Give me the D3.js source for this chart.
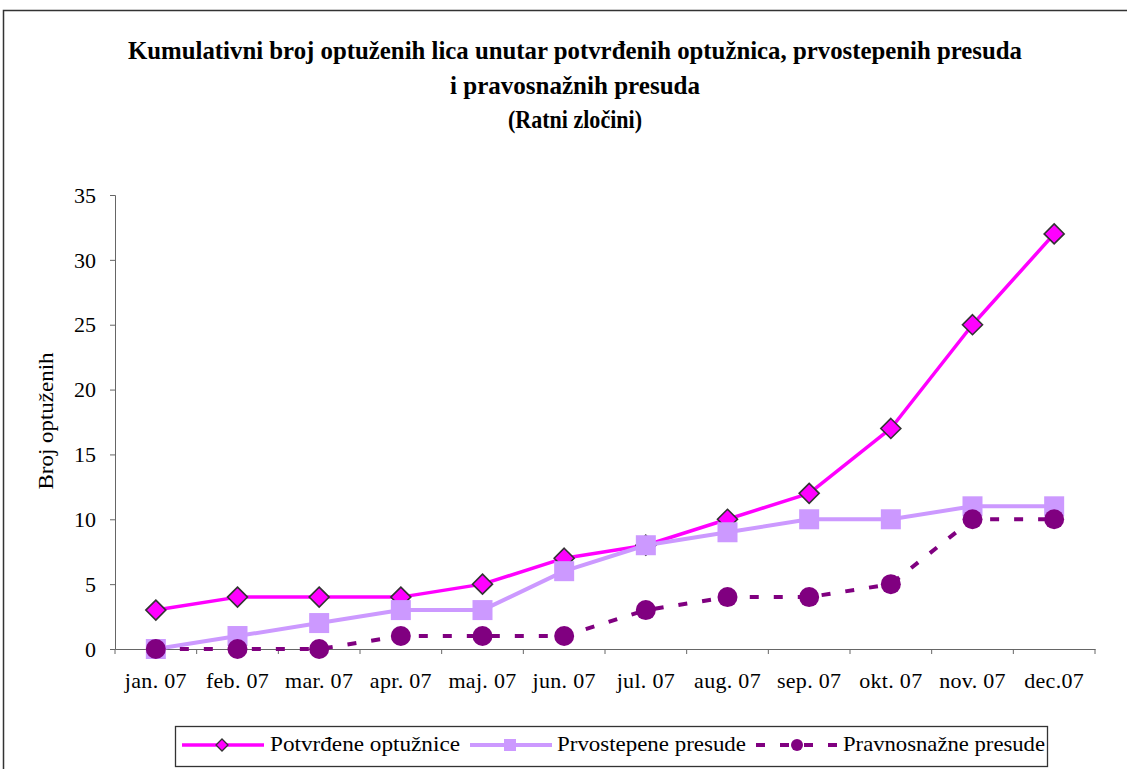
<!DOCTYPE html>
<html>
<head>
<meta charset="utf-8">
<script src="https://cdn.jsdelivr.net/npm/d3@7"></script>
<style>
  body { margin: 0; background: #fff; }
  svg text { font-family: "Liberation Serif", "Times New Roman", serif; fill: #000; }
</style>
</head>
<body>
<div id="chart"></div>
<script>
// data
var months = ["jan. 07", "feb. 07", "mar. 07", "apr. 07", "maj. 07", "jun. 07",
              "jul. 07", "aug. 07", "sep. 07", "okt. 07", "nov. 07", "dec.07"];
var potvrdene = [3, 4, 4, 4, 5, 7, 8, 10, 12, 17, 25, 32];
var prvostepene = [0, 1, 2, 3, 3, 6, 8, 9, 10, 10, 11, 11];
var pravosnazne = [0, 0, 0, 1, 1, 1, 3, 4, 4, 5, 10, 10];
var yTicks = [0, 5, 10, 15, 20, 25, 30, 35];
var titleLines = ["Kumulativni broj optuženih lica unutar potvrđenih optužnica, prvostepenih presuda",
                  "i pravosnažnih presuda", "(Ratni zločini)"];
var seriesNames = ["Potvrđene optužnice", "Prvostepene presude", "Pravnosnažne presude"];

var width = 1127, height = 769;
var svg = d3.select('#chart').append('svg')
    .attr('width', width)
    .attr('height', height);

// outer frame (runs off the right and bottom edges)
svg.append('rect')
    .attr('x', 3.5).attr('y', 10.5)
    .attr('width', 1200).attr('height', 800)
    .attr('fill', 'none')
    .attr('stroke', '#333')
    .attr('stroke-width', 1.5);

// title - tall condensed bold
var titleY = [59, 94, 128], titleW = [894, 250, 134];
titleLines.forEach(function(t, i) {
    svg.append('text')
        .attr('x', 575).attr('y', titleY[i])
        .attr('text-anchor', 'middle')
        .attr('font-size', 25)
        .attr('font-weight', 'bold')
        .attr('textLength', titleW[i])
        .attr('lengthAdjust', 'spacingAndGlyphs')
        .text(t);
});

var x = d3.scaleBand().domain(months).range([115, 1095]);
var y = d3.scaleLinear().domain([0, 35]).range([649, 195]);

// y axis
var yAxis = svg.append('g')
    .attr('transform', 'translate(115,0)')
    .call(d3.axisLeft(y).tickValues(yTicks).tickSize(5).tickPadding(14));
yAxis.selectAll('path, line').attr('stroke', '#666');
yAxis.selectAll('text')
    .attr('font-size', 22)
    .attr('dy', '0.33em');

// x axis, ticks on band edges
var xAxis = svg.append('g')
    .attr('transform', 'translate(0,649)')
    .call(d3.axisBottom(x).tickSize(0).tickPadding(39));
xAxis.select('.domain').attr('stroke', '#666');
xAxis.selectAll('text')
    .attr('font-size', 22)
    .attr('dy', 0)
    .style('letter-spacing', '0.3px');
xAxis.selectAll('.edge')
    .data(d3.range(months.length + 1))
    .enter().append('line')
    .attr('x1', d => x.range()[0] + d * x.step())
    .attr('x2', d => x.range()[0] + d * x.step())
    .attr('y1', 0).attr('y2', 5)
    .attr('stroke', '#666');

// y label
svg.append('text')
    .attr('transform', 'translate(53,421) rotate(-90)')
    .attr('text-anchor', 'middle')
    .attr('font-size', 21)
    .attr('textLength', 137)
    .attr('lengthAdjust', 'spacingAndGlyphs')
    .text('Broj optuženih');

var cx = (d, i) => x(months[i]) + x.bandwidth() / 2;
var line = d3.line()
    .x(cx)
    .y(d => y(d));

var diamond = 'M0,-10L10,0L0,10L-10,0Z';

// Potvrđene optužnice
svg.append('path').datum(potvrdene)
    .attr('fill', 'none').attr('stroke', '#FF00FF').attr('stroke-width', 3.5)
    .attr('stroke-linejoin', 'round')
    .attr('d', line);
svg.selectAll('.dia').data(potvrdene).enter().append('path')
    .attr('transform', (d, i) => 'translate(' + cx(d, i) + ',' + y(d) + ')')
    .attr('d', diamond)
    .attr('fill', '#FF00FF').attr('stroke', '#333').attr('stroke-width', 1.6);

// Prvostepene presude
svg.append('path').datum(prvostepene)
    .attr('fill', 'none').attr('stroke', '#CC99FF').attr('stroke-width', 4)
    .attr('stroke-linejoin', 'round')
    .attr('d', line);
svg.selectAll('.sq').data(prvostepene).enter().append('rect')
    .attr('x', (d, i) => cx(d, i) - 10)
    .attr('y', d => y(d) - 10)
    .attr('width', 20).attr('height', 20)
    .attr('fill', '#CC99FF');

// Pravnosnažne presude
svg.append('path').datum(pravosnazne)
    .attr('fill', 'none').attr('stroke', '#800080').attr('stroke-width', 4)
    .attr('stroke-dasharray', '9,15')
    .attr('d', line);
svg.selectAll('.dot').data(pravosnazne).enter().append('circle')
    .attr('cx', cx)
    .attr('cy', d => y(d))
    .attr('r', 10)
    .attr('fill', '#800080');

// Legend
var legend = svg.append('g');
legend.append('rect')
    .attr('x', 175.5).attr('y', 726.5)
    .attr('width', 872).attr('height', 40)
    .attr('fill', '#fff').attr('stroke', '#333').attr('stroke-width', 1.3);
var ly = 745;
legend.append('line').attr('x1', 182).attr('x2', 264).attr('y1', ly).attr('y2', ly)
    .attr('stroke', '#FF00FF').attr('stroke-width', 3.5);
legend.append('path').attr('transform', 'translate(222,' + ly + ')')
    .attr('d', 'M0,-6L6,0L0,6L-6,0Z')
    .attr('fill', '#FF00FF').attr('stroke', '#333').attr('stroke-width', 1.3);
legend.append('line').attr('x1', 470).attr('x2', 552).attr('y1', ly).attr('y2', ly)
    .attr('stroke', '#CC99FF').attr('stroke-width', 4);
legend.append('rect').attr('x', 504).attr('y', ly - 6).attr('width', 12).attr('height', 12)
    .attr('fill', '#CC99FF');
legend.append('line').attr('x1', 756).attr('x2', 838).attr('y1', ly).attr('y2', ly)
    .attr('stroke', '#800080').attr('stroke-width', 4).attr('stroke-dasharray', '9,15');
legend.append('circle').attr('cx', 797).attr('cy', ly).attr('r', 6).attr('fill', '#800080');

var legX = [270, 557, 843], legW = [190, 189, 202];
seriesNames.forEach(function(n, i) {
    legend.append('text')
        .attr('x', legX[i]).attr('y', 751)
        .attr('font-size', 22)
        .attr('textLength', legW[i])
        .attr('lengthAdjust', 'spacingAndGlyphs')
        .text(n);
});
</script>
</body>
</html>
